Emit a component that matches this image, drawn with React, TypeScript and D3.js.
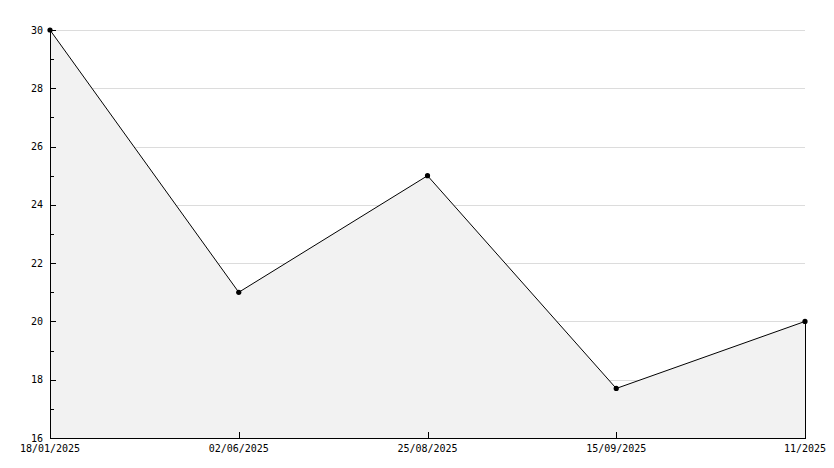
import React from "react";
import * as d3 from "d3";

const categories = ["18/01/2025", "02/06/2025", "25/08/2025", "15/09/2025", "11/2025"];
const values = [30, 21, 25, 17.7, 20];
const yMajorTicks = [16, 18, 20, 22, 24, 26, 28, 30];
const yMinorTicks = [17, 19, 21, 23, 25, 27, 29];

const W = 834, H = 468;
const M = { left: 50, right: 29, top: 30, bottom: 30 };

export default function App() {
  const x = d3.scalePoint<string>().domain(categories).range([M.left, W - M.right]);
  const y = d3.scaleLinear().domain([16, 30]).range([H - M.bottom, M.top]);
  const pts: [number, number][] = categories.map((c, i) => [x(c)!, y(values[i])]);
  const area = d3.area<[number, number]>().x(d => d[0]).y0(y(16)).y1(d => d[1])(pts)!;
  const line = d3.line<[number, number]>().x(d => d[0]).y(d => d[1])(pts)!;
  const font = "'DejaVu Sans Mono', monospace";
  const x0 = M.left, x1 = W - M.right, yb = y(16);
  return (
    <svg width={W} height={H} style={{ position: "absolute", left: 0, top: 0, background: "#fff" }}>
      {yMajorTicks.filter(t => t !== 16).map(t => (
        <line key={"g" + t} x1={x0} x2={x1} y1={Math.round(y(t)) + 0.5} y2={Math.round(y(t)) + 0.5} stroke="#dcdcdc" strokeWidth={1} shapeRendering="crispEdges" />
      ))}
      <path d={area} fill="#f2f2f2" />
      <line x1={x1 + 0.5} x2={x1 + 0.5} y1={pts[pts.length - 1][1]} y2={yb} stroke="#000" shapeRendering="crispEdges" />
      <path d={line} fill="none" stroke="#000" strokeWidth={1} />
      {pts.map((p, i) => (
        <circle key={"p" + i} cx={p[0]} cy={p[1]} r={2.6} fill="#000" />
      ))}
      <line x1={x0 + 0.5} x2={x0 + 0.5} y1={M.top} y2={yb} stroke="#000" shapeRendering="crispEdges" />
      <line x1={x0} x2={x1 + 1} y1={yb + 0.5} y2={yb + 0.5} stroke="#000" shapeRendering="crispEdges" />
      {yMajorTicks.map(t => (
        <g key={"y" + t}>
          <line x1={x0} x2={x0 + 6} y1={Math.round(y(t)) + 0.5} y2={Math.round(y(t)) + 0.5} stroke="#000" shapeRendering="crispEdges" />
          <text x={43} y={y(t)} dy="0.35em" textAnchor="end" fontFamily={font} fontSize={10} fill="#000">{t}</text>
        </g>
      ))}
      {yMinorTicks.map(t => (
        <line key={"m" + t} x1={x0} x2={x0 + 4} y1={Math.round(y(t)) + 0.5} y2={Math.round(y(t)) + 0.5} stroke="#000" shapeRendering="crispEdges" />
      ))}
      {categories.map(c => (
        <g key={"x" + c}>
          <line x1={Math.round(x(c)!) + 0.5} x2={Math.round(x(c)!) + 0.5} y1={yb} y2={yb - 6} stroke="#000" shapeRendering="crispEdges" />
          <text x={x(c)!} y={yb + 14} textAnchor="middle" fontFamily={font} fontSize={10} fill="#000">{c}</text>
        </g>
      ))}
    </svg>
  );
}
